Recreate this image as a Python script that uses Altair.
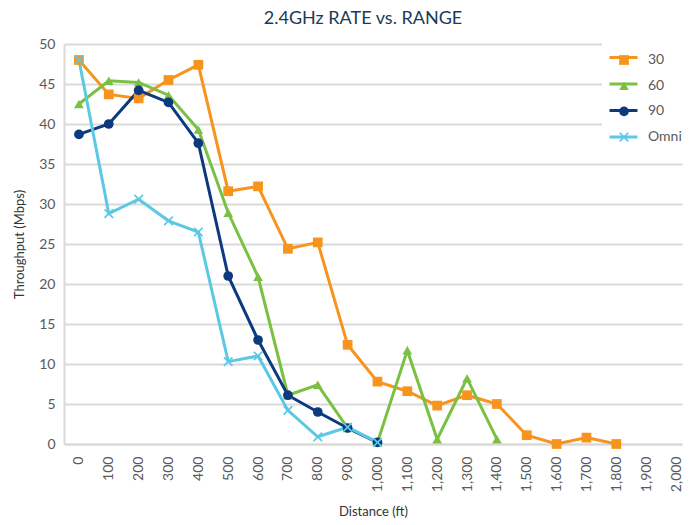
import altair as alt
import pandas as pd

distance_ticks = list(range(0, 2001, 100))
series_names = ["30", "60", "90", "Omni"]
colors = ["#F7941D", "#7AC143", "#0D3A7E", "#5BC8E4"]
x_shape = "M-1,-0.75L-0.75,-1L0,-0.25L0.75,-1L1,-0.75L0.25,0L1,0.75L0.75,1L0,0.25L-0.75,1L-1,0.75L-0.25,0Z"
shapes = ["square", "triangle-up", "circle", x_shape]

s30 = [48.0, 43.7, 43.2, 45.5, 47.4, 31.6, 32.2, 24.4, 25.2, 12.4, 7.8, 6.6, 4.8, 6.1, 5.0, 1.1, 0.0, 0.8, 0.0]
s60 = [42.5, 45.4, 45.2, 43.6, 39.3, 28.9, 20.9, 6.1, 7.4, 2.0, 0.2, 11.7, 0.6, 8.2, 0.6]
s90 = [38.7, 40.0, 44.2, 42.7, 37.6, 21.0, 13.0, 6.1, 4.0, 2.0, 0.2]
omni = [48.0, 28.8, 30.6, 27.9, 26.5, 10.3, 11.0, 4.2, 0.9, 2.1, 0.2]

rows = []
for name, vals in zip(series_names, [s30, s60, s90, omni]):
    for i, v in enumerate(vals):
        rows.append({"Distance": distance_ticks[i], "Throughput": v, "Series": name, "Series2": name})
df = pd.DataFrame(rows)

FONT = "Lato"
GRAY = "#595959"

x_enc = alt.X("Distance:Q",
              scale=alt.Scale(domain=[-50, 2020], nice=False, zero=False),
              axis=alt.Axis(values=distance_ticks, format=",.0f", labelAngle=270,
                            title="Distance (ft)", grid=False, ticks=False,
                            domainColor="#d9d9d9", domainWidth=2,
                            labelFont=FONT, labelFontSize=14, labelColor=GRAY,
                            labelPadding=12, titleFont=FONT, titleFontSize=13,
                            titleFontWeight="normal", titleColor="#333333",
                            titlePadding=14))
y_enc = alt.Y("Throughput:Q",
              scale=alt.Scale(domain=[0, 50], nice=False),
              axis=alt.Axis(values=list(range(0, 51, 5)), title="Throughput (Mbps)",
                            grid=True, gridColor="#d9d9d9", gridWidth=2, ticks=False,
                            domainColor="#d9d9d9", domainWidth=2,
                            labelFont=FONT, labelFontSize=14, labelColor=GRAY,
                            labelPadding=9, titleFont=FONT, titleFontSize=13,
                            titleFontWeight="normal", titleColor="#333333",
                            titlePadding=12))

lines = alt.Chart(df).mark_line(strokeWidth=3).encode(
    x=x_enc, y=y_enc,
    color=alt.Color("Series:N", scale=alt.Scale(domain=series_names, range=colors),
                    legend=alt.Legend(title=None, orient="none", legendX=538, legendY=-8,
                                      symbolType="stroke", symbolSize=784,
                                      symbolStrokeWidth=3, labelOpacity=0,
                                      labelFontSize=14, rowPadding=3.5,
                                      fillColor="white", padding=6)),
    detail="Series:N",
)

pt_legend = alt.Legend(title=None, orient="none", legendX=553, legendY=9,
                       symbolSize=95, symbolOpacity=1,
                       labelFont=FONT, labelFontSize=14, labelColor=GRAY,
                       labelOffset=17, rowPadding=9.7, padding=0)

points = alt.Chart(df).mark_point(filled=True, size=95, opacity=1).encode(
    x=x_enc, y=y_enc,
    color=alt.Color("Series2:N", scale=alt.Scale(domain=series_names, range=colors),
                    legend=pt_legend),
    shape=alt.Shape("Series2:N", scale=alt.Scale(domain=series_names, range=shapes),
                    legend=pt_legend),
)

chart = alt.layer(lines, points).resolve_scale(
    color="independent", shape="independent"
).resolve_legend(color="independent", shape="independent").properties(
    width=618, height=400,
    padding={"left": 5, "top": 2, "right": 0, "bottom": 5},
    title=alt.TitleParams("2.4GHz RATE vs. RANGE", font=FONT, fontSize=18,
                          fontWeight="normal", color="#1B3A57", anchor="middle",
                          offset=8, dx=-10),
).configure_view(stroke=None)

chart.save("out.html", embed_options={"renderer": "svg", "actions": False})
